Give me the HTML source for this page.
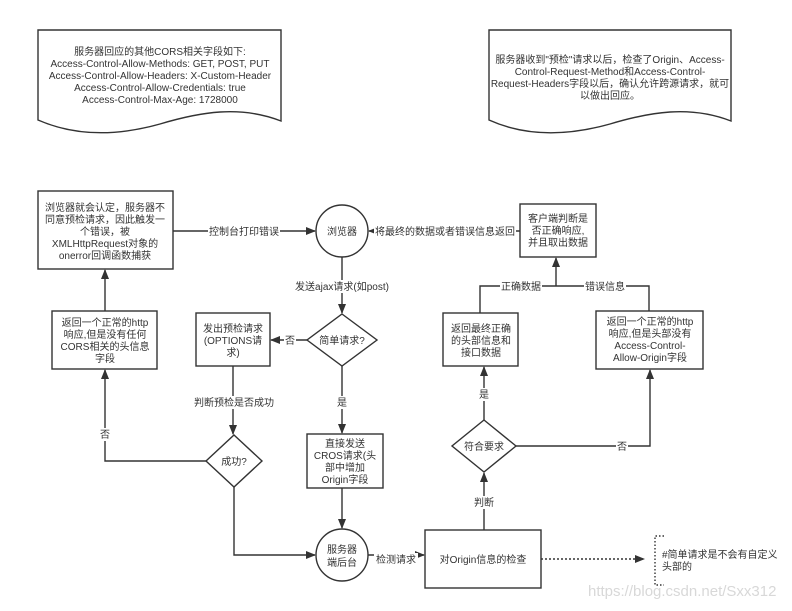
<!DOCTYPE html>
<html><head><meta charset="utf-8"><style>
html,body{margin:0;padding:0;background:#fff;}
svg text{font-family:"Liberation Sans","Noto Sans CJK SC",sans-serif;font-size:10px;fill:#333;}
</style></head><body>
<svg width="792" height="606" viewBox="0 0 792 606" xmlns="http://www.w3.org/2000/svg">
<defs><marker id="a" markerWidth="10" markerHeight="8" refX="9" refY="4" orient="auto" markerUnits="userSpaceOnUse"><path d="M0,0 L10,4 L0,8 z" fill="#333"/></marker></defs>
<g fill="#fff" stroke="#333" stroke-width="1.4">
<path d="M38,30 L281,30 L281,121 C240,105 200,112 160,124 C110,138 70,134 38,120 Z"/>
<path d="M489,30 L731,30 L731,121 C690,105 650,112 610,124 C560,138 520,134 489,120 Z"/>
<rect x="38" y="191" width="135" height="78"/>
<circle cx="342" cy="231" r="26"/>
<rect x="520" y="204" width="76" height="53"/>
<polygon points="342,314 377,340 342,366 307,340"/>
<rect x="196" y="313" width="74" height="53"/>
<rect x="52" y="311" width="105" height="58"/>
<rect x="443" y="313" width="75" height="53"/>
<rect x="596" y="311" width="107" height="58"/>
<polygon points="234,435 262,461 234,487 206,461"/>
<rect x="307" y="434" width="76" height="54"/>
<polygon points="484,420 516,446 484,472 452,446"/>
<circle cx="342" cy="555" r="26"/>
<rect x="425" y="530" width="116" height="58"/>
</g>
<g fill="none" stroke="#333" stroke-width="1.4">
<path d="M173,231 L315,231" marker-end="url(#a)"/>
<path d="M520,231 L369,231" marker-end="url(#a)"/>
<path d="M342,257 L342,313" marker-end="url(#a)"/>
<path d="M307,340 L271,340" marker-end="url(#a)"/>
<path d="M105,311 L105,270" marker-end="url(#a)"/>
<path d="M206,461 L105,461 L105,370" marker-end="url(#a)"/>
<path d="M233,366 L233,434" marker-end="url(#a)"/>
<path d="M234,487 L234,555 L315,555" marker-end="url(#a)"/>
<path d="M342,366 L342,433" marker-end="url(#a)"/>
<path d="M342,488 L342,528" marker-end="url(#a)"/>
<path d="M368,555 L424,555" marker-end="url(#a)"/>
<path d="M484,530 L484,473" marker-end="url(#a)"/>
<path d="M484,420 L484,367" marker-end="url(#a)"/>
<path d="M516,446 L650,446 L650,370" marker-end="url(#a)"/>
<path d="M480,313 L480,286 L649,286 L649,311"/>
<path d="M556,286 L556,258" marker-end="url(#a)"/>
<path d="M541,559 L644,559" stroke-dasharray="2,2" marker-end="url(#a)"/>
<path d="M664,536 L655,536 L655,585 L664,585" stroke-dasharray="1.5,2"/>
</g>
<g text-anchor="middle">
<text x="160" y="55">服务器回应的其他CORS相关字段如下:</text>
<text x="160" y="67">Access-Control-Allow-Methods: GET, POST, PUT</text>
<text x="160" y="79">Access-Control-Allow-Headers: X-Custom-Header</text>
<text x="160" y="91">Access-Control-Allow-Credentials: true</text>
<text x="160" y="103">Access-Control-Max-Age: 1728000</text>
<text x="610" y="63">服务器收到"预检"请求以后，检查了Origin、Access-</text>
<text x="610" y="75">Control-Request-Method和Access-Control-</text>
<text x="610" y="87">Request-Headers字段以后，确认允许跨源请求，就可</text>
<text x="610" y="99">以做出回应。</text>
<text x="105" y="211">浏览器就会认定，服务器不</text>
<text x="105" y="223">同意预检请求，因此触发一</text>
<text x="105" y="235">个错误，被</text>
<text x="105" y="247">XMLHttpRequest对象的</text>
<text x="105" y="259">onerror回调函数捕获</text>
<text x="342" y="235">浏览器</text>
<text x="558" y="222">客户端判断是</text>
<text x="558" y="234">否正确响应,</text>
<text x="558" y="246">并且取出数据</text>
<text x="342" y="344">简单请求?</text>
<text x="233" y="332">发出预检请求</text>
<text x="233" y="344">(OPTIONS请</text>
<text x="233" y="356">求)</text>
<text x="105" y="326">返回一个正常的http</text>
<text x="105" y="338">响应,但是没有任何</text>
<text x="105" y="350">CORS相关的头信息</text>
<text x="105" y="362">字段</text>
<text x="481" y="332">返回最终正确</text>
<text x="481" y="344">的头部信息和</text>
<text x="481" y="356">接口数据</text>
<text x="650" y="325">返回一个正常的http</text>
<text x="650" y="337">响应,但是头部没有</text>
<text x="650" y="349">Access-Control-</text>
<text x="650" y="361">Allow-Origin字段</text>
<text x="234" y="465">成功?</text>
<text x="345" y="447">直接发送</text>
<text x="345" y="459">CROS请求(头</text>
<text x="345" y="471">部中增加</text>
<text x="345" y="483">Origin字段</text>
<text x="484" y="450">符合要求</text>
<text x="342" y="553">服务器</text>
<text x="342" y="566">端后台</text>
<text x="483" y="563">对Origin信息的检查</text>
</g>
<g text-anchor="middle">
<rect x="208" y="224" width="72" height="13" fill="#fff"/><text x="244" y="235">控制台打印错误</text>
<rect x="374" y="224" width="142" height="13" fill="#fff"/><text x="445" y="235">将最终的数据或者错误信息返回</text>
<rect x="292" y="280" width="100" height="13" fill="#fff"/><text x="342" y="290">发送ajax请求(如post)</text>
<rect x="284" y="334" width="12" height="12" fill="#fff"/><text x="290" y="344">否</text>
<rect x="192" y="396" width="84" height="13" fill="#fff"/><text x="234" y="406">判断预检是否成功</text>
<rect x="336" y="396" width="12" height="13" fill="#fff"/><text x="342" y="406">是</text>
<rect x="99" y="428" width="12" height="13" fill="#fff"/><text x="105" y="438">否</text>
<rect x="500" y="280" width="42" height="13" fill="#fff"/><text x="521" y="290">正确数据</text>
<rect x="584" y="280" width="42" height="13" fill="#fff"/><text x="605" y="290">错误信息</text>
<rect x="478" y="388" width="12" height="13" fill="#fff"/><text x="484" y="398">是</text>
<rect x="616" y="440" width="12" height="13" fill="#fff"/><text x="622" y="450">否</text>
<rect x="472" y="496" width="24" height="13" fill="#fff"/><text x="484" y="506">判断</text>
<rect x="374" y="553" width="44" height="13" fill="#fff"/><text x="396" y="563">检测请求</text>
</g>
<text x="662" y="558">#简单请求是不会有自定义</text>
<text x="662" y="570">头部的</text>
<text x="588" y="596" style="font-size:15px;fill:#d8d8d8">https://blog.csdn.net/Sxx312</text>
</svg>
</body></html>
